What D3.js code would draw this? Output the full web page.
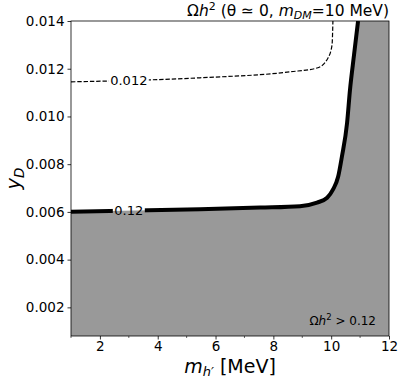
<!DOCTYPE html>
<html>
<head>
<meta charset="utf-8">
<script src="https://cdn.jsdelivr.net/npm/d3@7"></script>
<style>
  body { margin: 0; background: #fff; }
  svg { font-family: "DejaVu Sans", sans-serif; }
</style>
</head>
<body>
<div id="chart"></div>
<script>
// contour Omega h^2 = 0.12 (solid, thick)
const mainX = [1.0, 5.46, 7.54, 8.92, 9.51, 9.86, 10.06, 10.24, 10.37, 10.55, 10.65, 10.79, 10.93]
const mainY = [0.00601, 0.00611, 0.00618, 0.00624, 0.00639, 0.00659, 0.00693, 0.00747, 0.00831, 0.00973, 0.01111, 0.01258, 0.0140]

// contour Omega h^2 = 0.012 (dashed)
const dashX = [1.0, 5.46, 8.58, 9.51, 9.89, 10.03, 10.06]
const dashY = [0.01145, 0.01162, 0.01187, 0.01203, 0.01245, 0.0130, 0.0140]

const xTicks = [2, 4, 6, 8, 10, 12]
const xMinor = [1, 3, 5, 7, 9, 11]
const yTicks = [0.002, 0.004, 0.006, 0.008, 0.010, 0.012, 0.014]
const labelAt = 3.0

const width = 399, height = 380
const margin = {left: 71, right: 10, top: 21, bottom: 44}

const x = d3.scaleLinear().domain([1, 12]).range([margin.left, width - margin.right])
const y = d3.scaleLinear().domain([0.0008, 0.014]).range([height - margin.bottom, margin.top])

const svg = d3.select("#chart").append("svg")
  .attr("width", width)
  .attr("height", height)

const defs = svg.append("defs")
defs.append("clipPath").attr("id", "plotclip")
  .append("rect")
  .attr("x", x(1)).attr("y", y(0.014))
  .attr("width", x(12) - x(1)).attr("height", y(0.0008) - y(0.014))

const line = d3.line()
  .x(d => x(d[0]))
  .y(d => y(d[1]))
  .curve(d3.curveMonotoneX)

const mainPts = mainX.map((v, i) => [v, mainY[i]])
const dashPts = dashX.map((v, i) => [v, dashY[i]])

// interpolate y on the contour at the label spot
function yAt(xs, ys, v) {
  for (let i = 0; i < xs.length - 1; i++) {
    if (v >= xs[i] && v <= xs[i + 1]) {
      const t = (v - xs[i]) / (xs[i + 1] - xs[i])
      return ys[i] + t * (ys[i + 1] - ys[i])
    }
  }
  return ys[0]
}

// grey area: Omega h^2 > 0.12 (contour path closed round the lower right corner)
const plot = svg.append("g").attr("clip-path", "url(#plotclip)")
const corners = [[12, 0.014], [12, 0.0008], [1, 0.0008]]
  .map(d => `L${x(d[0])},${y(d[1])}`).join("")

plot.append("path")
  .attr("d", line(mainPts) + corners + "Z")
  .attr("fill", "#999999")

// masks to cut the lines under the inline labels
const labelMain = {cx: x(labelAt), cy: y(yAt(mainX, mainY, labelAt)), w: 32}
const labelDash = {cx: x(labelAt), cy: y(yAt(dashX, dashY, labelAt)), w: 40}

function addMask(id, lab) {
  const m = defs.append("mask").attr("id", id)
  m.append("rect").attr("x", 0).attr("y", 0).attr("width", width).attr("height", height).attr("fill", "#fff")
  m.append("rect")
    .attr("x", lab.cx - lab.w / 2).attr("y", lab.cy - 8)
    .attr("width", lab.w).attr("height", 16)
    .attr("fill", "#000")
}
addMask("maskMain", labelMain)
addMask("maskDash", labelDash)

plot.append("path")
  .attr("d", line(mainPts))
  .attr("fill", "none")
  .attr("stroke", "#000")
  .attr("stroke-width", 4)
  .attr("mask", "url(#maskMain)")

plot.append("path")
  .attr("d", line(dashPts))
  .attr("fill", "none")
  .attr("stroke", "#000")
  .attr("stroke-width", 1.2)
  .attr("stroke-dasharray", "4.4,1.9")
  .attr("mask", "url(#maskDash)")

svg.append("text")
  .attr("x", labelMain.cx).attr("y", labelMain.cy)
  .attr("text-anchor", "middle").attr("dominant-baseline", "central")
  .attr("font-size", 13)
  .text("0.12")

svg.append("text")
  .attr("x", labelDash.cx).attr("y", labelDash.cy)
  .attr("text-anchor", "middle").attr("dominant-baseline", "central")
  .attr("font-size", 13)
  .text("0.012")

// axes
const xAxis = svg.append("g")
  .attr("transform", `translate(0,${y(0.0008)})`)
  .call(d3.axisBottom(x).tickValues(xTicks).tickSize(3.5).tickPadding(2).tickFormat(d3.format("d")))
xAxis.append("g").selectAll("line")
  .data(xMinor)
  .join("line")
  .attr("x1", d => x(d)).attr("x2", d => x(d))
  .attr("y1", 0).attr("y2", 2)
  .attr("stroke", "#000").attr("stroke-width", 0.6)

const yAxis = svg.append("g")
  .attr("transform", `translate(${x(1)},0)`)
  .call(d3.axisLeft(y).tickValues(yTicks).tickSize(3.5).tickPadding(3).tickFormat(d3.format(".3f")))

for (let ax of [xAxis, yAxis]) {
  ax.select(".domain").remove()
  ax.selectAll(".tick line").attr("stroke-width", 0.8)
  ax.selectAll(".tick text").attr("font-size", 13.5).attr("fill", "#000").attr("font-family", "DejaVu Sans")
}

// frame
svg.append("rect")
  .attr("x", x(1)).attr("y", y(0.014))
  .attr("width", x(12) - x(1)).attr("height", y(0.0008) - y(0.014))
  .attr("fill", "none")
  .attr("stroke", "#000")
  .attr("stroke-width", 0.8)

// title
const title = svg.append("text")
  .attr("x", x(12)).attr("y", 16)
  .attr("text-anchor", "end")
  .attr("font-size", 15.5)
title.append("tspan").text("Ω")
title.append("tspan").attr("font-style", "italic").text("h")
title.append("tspan").attr("font-size", 11).attr("dy", -6).text("2")
title.append("tspan").attr("dy", 6).text(" (θ ≃ 0, ")
title.append("tspan").attr("font-style", "italic").text("m")
title.append("tspan").attr("font-style", "italic").attr("font-size", 11).attr("dy", 3).text("DM")
title.append("tspan").attr("dy", -3).text("=10 MeV)")

// region note
const note = svg.append("text")
  .attr("x", x(11.55)).attr("y", y(0.0008) - 11)
  .attr("text-anchor", "end")
  .attr("font-size", 12)
note.append("tspan").text("Ω")
note.append("tspan").attr("font-style", "italic").text("h")
note.append("tspan").attr("font-size", 8.5).attr("dy", -5).text("2")
note.append("tspan").attr("dy", 5).text(" > 0.12")

// axis labels
const xl = svg.append("text")
  .attr("x", (x(1) + x(12)) / 2).attr("y", 373)
  .attr("text-anchor", "middle")
  .attr("font-size", 19)
xl.append("tspan").attr("font-style", "italic").text("m")
xl.append("tspan").attr("font-style", "italic").attr("font-size", 13).attr("dy", 3).text("h′")
xl.append("tspan").attr("dy", -3).text(" [MeV]")

const yl = svg.append("text")
  .attr("transform", `translate(20,${(y(0.0008) + y(0.014)) / 2}) rotate(-90)`)
  .attr("text-anchor", "middle")
  .attr("font-size", 19.5)
yl.append("tspan").attr("font-style", "italic").text("y")
yl.append("tspan").attr("font-style", "italic").attr("font-size", 13.5).attr("dy", 4).text("D")
</script>
</body>
</html>
